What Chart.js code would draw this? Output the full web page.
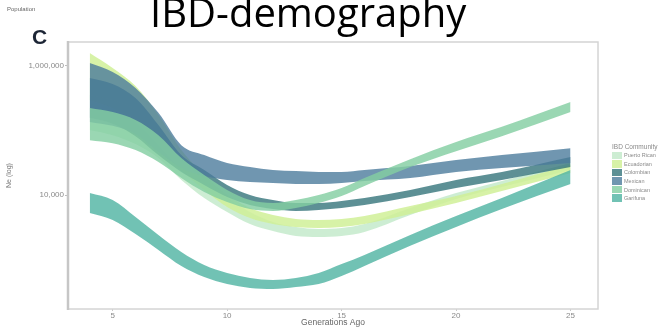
<!DOCTYPE html>
<html>
<head>
<meta charset="utf-8">
<script src="https://cdn.jsdelivr.net/npm/chart.js@4.4.1/dist/chart.umd.min.js"></script>
<style>
  html, body { margin: 0; padding: 0; background: #fff; }
  #wrap { position: relative; width: 662px; height: 327px; overflow: hidden; background: #fff; }
  #chart { position: absolute; left: 0; top: 0; }
  #note { position: absolute; left: 7px; top: 6px; font: 6px 'Liberation Sans', Arial, sans-serif; color: #666; }
  #panel { position: absolute; left: 32px; top: 25px; font: bold 21px 'Liberation Sans', Arial, sans-serif; color: #1c2535; }
  #title { position: absolute; left: 150px; top: -8px; font: 40px/40px 'Open Sans', sans-serif; color: #000; white-space: nowrap; }
  #legend { position: absolute; left: 612px; top: 143px; font-family: 'Liberation Sans', Arial, sans-serif; color: #8a8a8a; white-space: nowrap; }
  #legend .lt { font-size: 6.5px; line-height: 8px; }
  #legend .it { height: 8.6px; display: flex; align-items: center; font-size: 5.5px; }
  #legend .sw { width: 10px; height: 7.6px; margin-right: 2px; }
</style>
</head>
<body>
<div id="wrap">
  <canvas id="chart" width="662" height="327"></canvas>
  <div id="note">Population</div>
  <div id="panel">C</div>
  <div id="title">IBD-demography</div>
  <div id="legend"></div>
</div>
<script>
// Generations before present at which each IBDNe band is sampled
const generations = [4, 5, 6, 7, 8, 9, 10, 11, 12, 13, 14, 15, 16, 18, 20, 22, 25];

// Community names and band colours
const communities = ['Puerto Rican', 'Ecuadorian', 'Colombian', 'Mexican', 'Dominican', 'Garifuna'];
const bandColors = [
  'rgba(192, 232, 200, 0.80)',
  'rgba(208, 240, 152, 0.85)',
  'rgba(52, 116, 122, 0.80)',
  'rgba(76, 124, 156, 0.80)',
  'rgba(132, 206, 162, 0.82)',
  'rgba(82, 180, 164, 0.82)'
];

// Effective population size: lower and upper bound of each band
const puertoRicanLow  = [102000, 84700, 61500, 37400, 17100, 8990, 5460, 3560, 2770, 2320, 2240, 2320, 2680, 4900, 8670, 13300, 24400];
const puertoRicanHigh = [356000, 298000, 209000, 102000, 34800, 17100, 8990, 5460, 3820, 3200, 2980, 3090, 3560, 6290, 10700, 16500, 31300];

const ecuadorianLow  = [298000, 224000, 136000, 59300, 24400, 12000, 6520, 4410, 3560, 3200, 3090, 3200, 3560, 5080, 7520, 11500, 21900];
const ecuadorianHigh = [1590000, 931000, 490000, 175000, 49700, 20400, 10000, 6290, 4900, 4250, 4100, 4250, 4730, 6760, 9650, 14800, 29100];

const colombianLow  = [157000, 127000, 81800, 41600, 22700, 14300, 9310, 7000, 6070, 5660, 5860, 6290, 7000, 9310, 12800, 17100, 27100];
const colombianHigh = [652000, 527000, 320000, 122000, 41600, 24400, 14300, 10000, 8370, 7520, 7520, 8080, 8990, 12000, 17100, 22700, 38700];

const mexicanLow  = [136000, 118000, 87800, 46300, 26200, 19700, 17100, 15900, 15300, 14800, 14800, 15300, 16500, 18300, 22700, 26200, 31300];
const mexicanHigh = [1110000, 808000, 457000, 188000, 59300, 41600, 31300, 27100, 24400, 23500, 22700, 22700, 24400, 28100, 34800, 41600, 53300];

const dominicanLow  = [70900, 63700, 49700, 32400, 18300, 11100, 7790, 6070, 5660, 6290, 7520, 9650, 13800, 27100, 47900, 81800, 194000];
const dominicanHigh = [224000, 194000, 146000, 84700, 37400, 20400, 12000, 8370, 7520, 8370, 10000, 12800, 18300, 36000, 66100, 114000, 277000];

const garifunaLow  = [5270, 4100, 2490, 1410, 793, 535, 417, 362, 349, 375, 417, 555, 793, 1630, 3200, 6070, 14800];
const garifunaHigh = [10700, 8370, 4570, 2410, 1310, 822, 618, 517, 481, 517, 618, 852, 1180, 2410, 4730, 8990, 24400];

// Axis tick positions
const xTicks = [5, 10, 15, 20, 25];
const yTicks = [10000, 1000000];

const bands = [
  [puertoRicanLow, puertoRicanHigh],
  [ecuadorianLow, ecuadorianHigh],
  [colombianLow, colombianHigh],
  [mexicanLow, mexicanHigh],
  [dominicanLow, dominicanHigh],
  [garifunaLow, garifunaHigh]
];

const toPoints = arr => arr.map((v, i) => ({ x: generations[i], y: v }));

// Each band = lower line + upper line filled down to it
const datasets = [];
bands.forEach(([low, high], i) => {
  const common = {
    pointRadius: 0,
    borderWidth: 0,
    borderColor: 'rgba(0,0,0,0)',
    cubicInterpolationMode: 'monotone',
    order: 20 - i
  };
  datasets.push(Object.assign({ label: communities[i] + ' low', data: toPoints(low), fill: false }, common));
  datasets.push(Object.assign({ label: communities[i], data: toPoints(high), fill: '-1', backgroundColor: bandColors[i] }, common));
});

// Light grey frame around the plotting panel
const panelFrame = {
  id: 'panelFrame',
  afterDatasetsDraw(chart) {
    const { ctx, chartArea: a } = chart;
    ctx.save();
    ctx.strokeStyle = '#d4d4d4';
    ctx.lineWidth = 1.5;
    ctx.strokeRect(a.left, a.top, a.right - a.left, a.bottom - a.top);
    ctx.strokeStyle = '#c6c6c6';
    ctx.lineWidth = 2.5;
    ctx.beginPath();
    ctx.moveTo(a.left, a.top - 1);
    ctx.lineTo(a.left, a.bottom + 1);
    ctx.stroke();
    ctx.restore();
  }
};

new Chart(document.getElementById('chart'), {
  type: 'line',
  data: { datasets },
  plugins: [panelFrame],
  options: {
    responsive: false,
    animation: false,
    events: [],
    layout: { padding: { top: 42, right: 64, left: 0, bottom: 0 } },
    plugins: {
      legend: { display: false },
      tooltip: { enabled: false },
      title: { display: false }
    },
    scales: {
      x: {
        type: 'linear',
        min: 3.05,
        max: 26.2,
        bounds: 'data',
        afterFit: s => { s.height = 18; },
        afterBuildTicks: s => { s.ticks = xTicks.map(v => ({ value: v })); },
        grid: { display: true, drawOnChartArea: false, drawTicks: true, tickLength: 2, color: '#c8c8c8' },
        border: { display: false },
        ticks: { color: '#8a8a8a', font: { size: 8, family: 'Liberation Sans' }, padding: 0, maxRotation: 0 },
        title: { display: true, text: 'Generations Ago', color: '#666', font: { size: 8.5, family: 'Liberation Sans', lineHeight: 1 }, padding: { top: 0, bottom: 0 } }
      },
      y: {
        type: 'logarithmic',
        min: 171,
        max: 2355000,
        bounds: 'data',
        afterFit: s => { s.width = 68; },
        afterBuildTicks: s => { s.ticks = yTicks.map(v => ({ value: v })); },
        grid: { display: true, drawOnChartArea: false, drawTicks: true, tickLength: 3, color: '#bdbdbd' },
        border: { display: false },
        ticks: {
          color: '#8a8a8a',
          font: { size: 8, family: 'Liberation Sans' },
          padding: 1,
          callback: v => Number(v).toLocaleString('en-US')
        },
        title: { display: true, text: 'Ne (log)', color: '#777', font: { size: 7, family: 'Liberation Sans', lineHeight: 1 }, padding: { top: 6, bottom: 0 } }
      }
    }
  }
});

// Legend for the six communities
const legend = document.getElementById('legend');
legend.innerHTML = '<div class="lt">IBD Community</div>' + communities.map((name, i) =>
  '<div class="it"><span class="sw" style="background:' + bandColors[i] + '"></span>' + name + '</div>'
).join('');
</script>
</body>
</html>
